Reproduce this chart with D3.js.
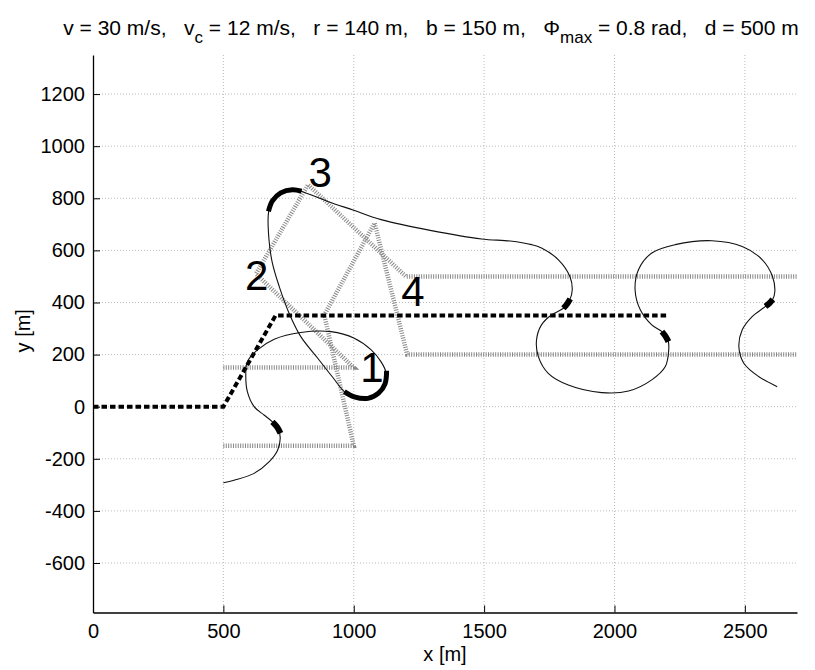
<!DOCTYPE html>
<html>
<head>
<meta charset="utf-8">
<script src="https://cdn.jsdelivr.net/npm/d3@7"></script>
<style>
  body { margin: 0; background: #fff; }
  text { font-family: "Liberation Sans", Arial, sans-serif; }
</style>
</head>
<body>
<div id="chart"></div>
<script>
// figure size and plot box
var svgWidth = 815;
var svgHeight = 670;
var margin = { top: 55, right: 18, bottom: 57.5, left: 93 };
var width = svgWidth - margin.left - margin.right;
var height = svgHeight - margin.top - margin.bottom;

// ticks
var xTicks = [0, 500, 1000, 1500, 2000, 2500];
var yTicks = [-600, -400, -200, 0, 200, 400, 600, 800, 1000, 1200];

// reference path (thick dashed)
var refPath = [[0, 0], [500, 0], [700, 350], [2200, 350]];

// corridor boundaries (grey hatched)
var laneUpper = [[500, 150], [1000, 150], [625, 510], [825, 852], [1200, 500], [2700, 500]];
var laneLower = [[500, -150], [1000, -150], [887, 352], [1080, 705], [1205, 200], [2700, 200]];

// flown trajectory (thin)
var trajectory = [
  [500, -292], [541, -282], [618, -256], [675, -212], [708, -167], [718, -122], [712, -88],
  [688, -58], [656, -32], [618, 0], [592, 58], [586, 115], [592, 173], [631, 218], [695, 259],
  [797, 285], [913, 288], [1002, 263], [1067, 218], [1105, 172], [1124, 130], [1120, 88],
  [1095, 52], [1054, 32], [1002, 38], [964, 58], [920, 112], [862, 186], [797, 269], [752, 359],
  [714, 462], [688, 551], [675, 641], [673, 744], [688, 790], [720, 821], [765, 833], [797, 827],
  [900, 788], [1000, 754], [1105, 718], [1298, 676], [1490, 644], [1600, 636], [1682, 622],
  [1720, 609], [1785, 564], [1829, 500], [1838, 449], [1829, 412], [1804, 378], [1759, 353],
  [1720, 314], [1701, 256], [1708, 192], [1746, 128], [1823, 83], [1951, 54], [2054, 60],
  [2143, 103], [2195, 154], [2208, 218], [2206, 252], [2182, 288], [2143, 314], [2099, 372],
  [2079, 449], [2092, 526], [2143, 590], [2233, 622], [2374, 637], [2490, 615], [2567, 564],
  [2606, 500], [2615, 442], [2606, 410], [2579, 385], [2528, 346], [2490, 295], [2477, 231],
  [2496, 167], [2554, 115], [2624, 77]
];

// thick parts of the trajectory
var thickArcs = [
  [[1126, 138], [1120, 88], [1095, 52], [1054, 32], [1002, 38], [964, 58]],
  [[673, 750], [688, 790], [720, 821], [765, 833], [800, 827]]
];
var thickMarks = [
  [[719, -102], [706, -78], [688, -58]],
  [[1830, 414], [1818, 394], [1804, 378]],
  [[2207, 250], [2196, 270], [2182, 288]],
  [[2607, 412], [2594, 397], [2579, 385]]
];

// waypoint numbers
var wpLabels = ["1", "2", "3", "4"];
var wpPos = [[1070, 153], [628, 506], [871, 902], [1227, 445]];

var svg = d3.select("#chart")
  .append("svg")
  .attr("width", svgWidth)
  .attr("height", svgHeight);

var chartGroup = svg.append("g")
  .attr("transform", `translate(${margin.left}, ${margin.top})`);

var xScale = d3.scaleLinear().domain([0, 2700]).range([0, width]);
var yScale = d3.scaleLinear().domain([-790, 1350]).range([height, 0]);

// grid
chartGroup.append("g")
  .selectAll("line.gx")
  .data(xTicks.filter(d => d > 0))
  .enter()
  .append("line")
  .attr("x1", d => xScale(d)).attr("x2", d => xScale(d))
  .attr("y1", 0).attr("y2", height)
  .attr("stroke", "#bbb").attr("stroke-width", 1).attr("stroke-dasharray", "1,2");

chartGroup.append("g")
  .selectAll("line.gy")
  .data(yTicks)
  .enter()
  .append("line")
  .attr("x1", 0).attr("x2", width)
  .attr("y1", d => yScale(d)).attr("y2", d => yScale(d))
  .attr("stroke", "#bbb").attr("stroke-width", 1).attr("stroke-dasharray", "1,2");

var line = d3.line().x(d => xScale(d[0])).y(d => yScale(d[1]));
var curve = d3.line().x(d => xScale(d[0])).y(d => yScale(d[1])).curve(d3.curveCatmullRom.alpha(0.5));

// corridor lines
[laneUpper, laneLower].forEach(function(lane) {
  chartGroup.append("path")
    .attr("d", line(lane))
    .attr("fill", "none")
    .attr("stroke", "#888")
    .attr("stroke-width", 4.5)
    .attr("stroke-dasharray", "1,1.4");
});

// reference path
chartGroup.append("path")
  .attr("d", line(refPath))
  .attr("fill", "none")
  .attr("stroke", "#000")
  .attr("stroke-width", 4)
  .attr("stroke-dasharray", "5.5,3");

// trajectory
chartGroup.append("path")
  .attr("d", curve(trajectory))
  .attr("fill", "none")
  .attr("stroke", "#111")
  .attr("stroke-width", 1.1);

thickArcs.forEach(function(a) {
  chartGroup.append("path")
    .attr("d", curve(a))
    .attr("fill", "none")
    .attr("stroke", "#000")
    .attr("stroke-width", 5);
});

thickMarks.forEach(function(a) {
  chartGroup.append("path")
    .attr("d", curve(a))
    .attr("fill", "none")
    .attr("stroke", "#000")
    .attr("stroke-width", 6);
});

// waypoint numbers
chartGroup.selectAll("text.wp")
  .data(wpLabels)
  .enter()
  .append("text")
  .attr("x", (d, i) => xScale(wpPos[i][0]))
  .attr("y", (d, i) => yScale(wpPos[i][1]))
  .attr("dy", "0.36em")
  .attr("text-anchor", "middle")
  .attr("font-size", 42)
  .attr("fill", "#000")
  .text(d => d);

// axes
var xAxis = d3.axisBottom(xScale).tickValues(xTicks).tickFormat(d => String(d))
  .tickSizeInner(-7).tickSizeOuter(0).tickPadding(11);
var yAxis = d3.axisLeft(yScale).tickValues(yTicks).tickFormat(d => String(d))
  .tickSizeInner(-7).tickSizeOuter(0).tickPadding(8);

var gx = chartGroup.append("g")
  .attr("transform", `translate(0, ${height})`)
  .call(xAxis);
var gy = chartGroup.append("g").call(yAxis);

[gx, gy].forEach(function(g) {
  g.selectAll("path.domain").attr("stroke", "#000").attr("stroke-width", 1.3);
  g.selectAll(".tick line").attr("stroke", "#000").attr("stroke-width", 1);
  g.selectAll(".tick text").attr("font-size", 20).attr("fill", "#000")
    .style("font-family", "'Liberation Sans', Arial, sans-serif");
});

// axis labels
svg.append("text")
  .attr("x", margin.left + width / 2)
  .attr("y", 661)
  .attr("text-anchor", "middle")
  .attr("font-size", 20)
  .text("x [m]");

svg.append("text")
  .attr("transform", `translate(30, ${margin.top + height / 2 - 3}) rotate(-90)`)
  .attr("text-anchor", "middle")
  .attr("font-size", 20)
  .text("y [m]");

// title
var title = svg.append("text")
  .attr("x", 431)
  .attr("y", 35)
  .attr("text-anchor", "middle")
  .attr("font-size", 21)
  .attr("xml:space", "preserve");
title.append("tspan").text("v = 30 m/s,   v");
title.append("tspan").attr("dy", 8).attr("font-size", 17).text("c");
title.append("tspan").attr("dy", -8).text(" = 12 m/s,   r = 140 m,   b = 150 m,   \u03A6");
title.append("tspan").attr("dy", 8).attr("font-size", 17).text("max");
title.append("tspan").attr("dy", -8).text(" = 0.8 rad,   d = 500 m");
</script>
</body>
</html>
